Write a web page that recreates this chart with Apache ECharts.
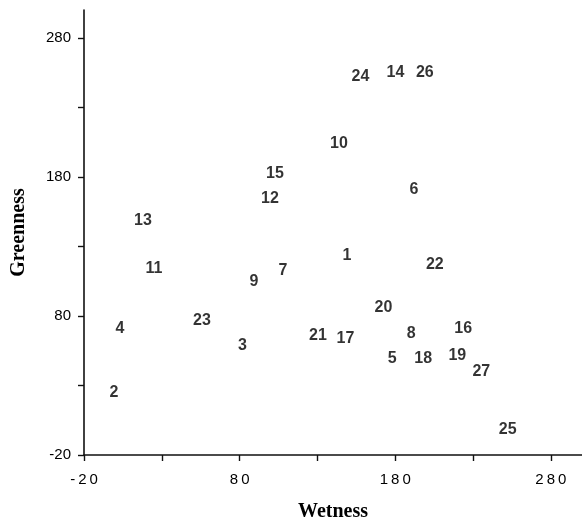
<!DOCTYPE html>
<html>
<head>
<meta charset="utf-8">
<script src="https://cdn.jsdelivr.net/npm/echarts@6/dist/echarts.min.js"></script>
<style>
html,body{margin:0;padding:0;background:#fff;}
#c{width:582px;height:523px;}
</style>
</head>
<body>
<div id="c"></div>
<script>
const ids =       ['1','2','3','4','5','6','7','8','9','10','11','12','13','14','15','16','17','18','19','20','21','22','23','24','25','26','27'];
const wetness =   [148.9,-0.7,81.8,3.1,178.1,192,107.8,190.3,89.2,143.8,25,99.5,17.9,180.1,102.7,223.7,148,198,219.9,172.4,130.3,205.4,55.8,157.6,252.3,199,235.3];
const greenness = [123.5,25,58.9,70.8,49.6,171,112.7,67.2,104.7,204.2,114.1,164.6,148.7,255,182.6,70.8,63.6,49.2,51.7,86.3,65.8,117,77,251.8,-2,255,40.2];
const tickValues = [-20,30,80,130,180,230,280];
const labelValues = [-20,80,180,280];

const points = ids.map((id,i)=>({name:id, value:[wetness[i], greenness[i]]}));

const chart = echarts.init(document.getElementById('c'));
chart.setOption({
  animation:false,
  backgroundColor:'#ffffff',
  grid:{left:84, right:0, top:10, bottom:68, containLabel:false, outerBoundsMode:'none'},
  xAxis:{
    type:'value', min:-20, max:300,
    name:'Wetness', nameLocation:'middle', nameGap:47,
    nameTextStyle:{fontFamily:'Liberation Serif', fontWeight:'bold', fontSize:20, color:'#000'},
    splitLine:{show:false},
    axisLine:{onZero:false, lineStyle:{color:'#111', width:1.6}},
    axisTick:{show:true, inside:false, length:6, customValues:tickValues, lineStyle:{color:'#111', width:1.4}},
    axisLabel:{customValues:labelValues, margin:17, fontFamily:'Liberation Sans, Arial, sans-serif', fontSize:15, color:'#000',
      formatter:v=>String(v).split('').join('\u2009')}
  },
  yAxis:{
    type:'value', min:-20, max:300,
    name:'Greenness', nameLocation:'middle', nameGap:55, nameRotate:90,
    nameTextStyle:{fontFamily:'Liberation Serif', fontWeight:'bold', fontSize:20, color:'#000'},
    splitLine:{show:false},
    axisLine:{onZero:false, lineStyle:{color:'#111', width:1.6}},
    axisTick:{show:true, inside:false, length:6, customValues:tickValues, lineStyle:{color:'#111', width:1.4}},
    axisLabel:{customValues:labelValues, margin:13, fontFamily:'Liberation Sans, Arial, sans-serif', fontSize:15, color:'#000'}
  },
  series:[{
    type:'scatter',
    data:points,
    symbolSize:1,
    itemStyle:{color:'rgba(0,0,0,0)'},
    label:{show:true, position:'inside', formatter:p=>p.name,
      fontFamily:'Liberation Sans, Arial, sans-serif', fontWeight:'bold', fontSize:16, color:'#000'}
  }]
});
</script>
</body>
</html>
